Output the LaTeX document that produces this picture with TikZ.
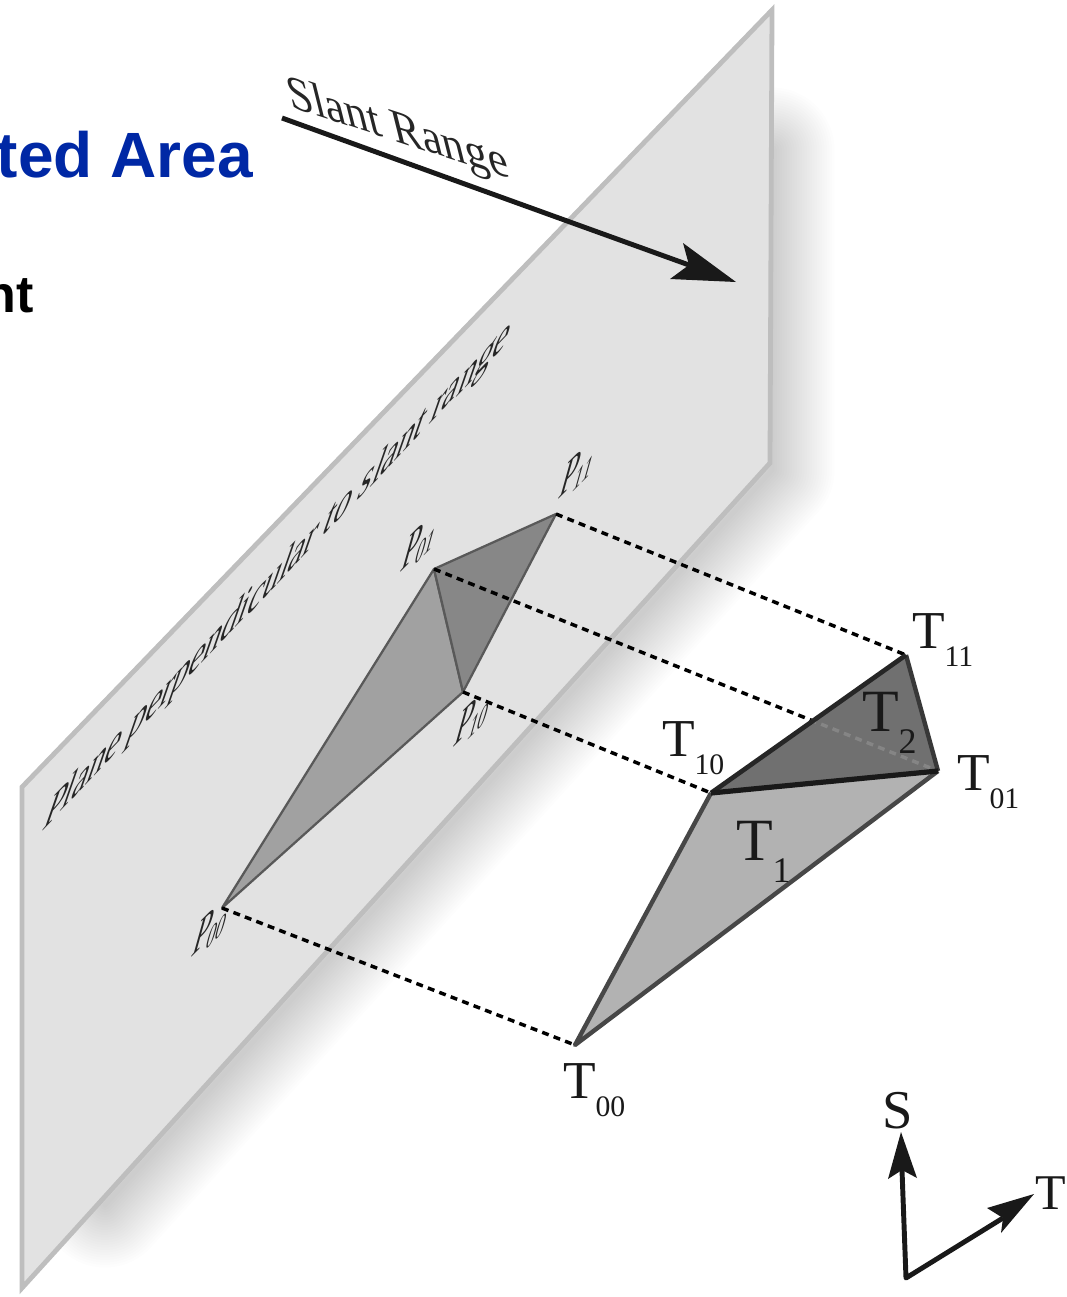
\documentclass[tikz,border=0pt]{standalone}
\usepackage{fontspec}
\setmainfont{Liberation Serif}
\newfontfamily\headfont{Liberation Sans}
\definecolor{planefill}{HTML}{E2E2E2}
\definecolor{planeedge}{HTML}{BEBEBE}
\definecolor{headblue}{HTML}{0028A5}
\newcommand{\fs}[1]{\fontsize{#1}{#1}\selectfont}
\tikzset{
  planebox/.style={fill=planefill,draw=planeedge,line width=3.6pt,line join=miter},
  dashlink/.style={line width=2.6pt,dash pattern=on 5.2pt off 4pt,draw=black},
  ptext/.style={inner sep=0pt,outer sep=0pt,anchor=base west,transform shape,text=black!85},
  ttext/.style={inner sep=0pt,outer sep=0pt,anchor=base west,text=black!90},
  headtext/.style={inner sep=0pt,outer sep=0pt,anchor=base east,font=\headfont\bfseries},
  arrowline/.style={line width=3.7pt,draw=black!90},
  arrowhead/.style={fill=black!90,draw=none}
}
\newcommand{\plab}[4]{% name, x, y, subscript
  \begin{scope}[cm={.62,.62,.33,1.18,(#2,#3)}]
    \node[ptext] (#1) at (0,0) {\fs{36}P\kern1.5pt\raisebox{-7pt}{\fs{22}#4}};
  \end{scope}}
\newcommand{\tlab}[4]{% name, x, y, subscript
  \node[ttext] (#1) at (#2,#3) {\fs{40}T\raisebox{-13.5pt}{\fs{22.3}#4}};}
\begin{document}
\begin{tikzpicture}[x=.75pt,y=-.75pt]
\useasboundingbox (0,0) rectangle (1067,1297);
% soft shadow
\foreach \w in {5,10,...,125}{
  \draw[black,opacity=.0085,line width=\w*.75pt,line join=round,line cap=round]
    (772,150) -- (772,470) -- (105,1205);
}
% plane
\coordinate (A) at (772,10);
\coordinate (B) at (770,463);
\coordinate (C) at (22,1288);
\coordinate (D) at (22,787);
\draw[planebox] (A) -- (B) -- (C) -- (D) -- cycle;
% headings
\node[headtext,text=headblue] (h1) at (253,177) {\fs{48}ted Area};
\node[headtext,text=black] (h2) at (34,312) {\fs{39}nt};
% slant range
\begin{scope}[cm={.95,-.31,-.26,1.04,(291,107)}]
  \node[ptext] (sr) at (0,0) {\fs{35.8}Slant Range};
\end{scope}
\coordinate (s0) at (282,118);
\coordinate (s1) at (689,265);
\coordinate (stip) at (736,282);
\draw[arrowline] (s0) -- (s1);
\fill[arrowhead] (stip) -- (683,243) -- (689,265) -- (670,279) -- cycle;
% plane label
\begin{scope}[cm={.69,.723,.39,1.12,(41,832)}]
  \node[ptext] (pl) at (0,0) {\fs{37}Plane perpendicular to slant range};
\end{scope}
% projected points
\coordinate (P00) at (222,908);
\coordinate (P01) at (434,569);
\coordinate (P10) at (463,692);
\coordinate (P11) at (556,514);
\coordinate (T00) at (575,1045);
\coordinate (T10) at (711,793);
\coordinate (T01) at (938,771);
\coordinate (T11) at (906,655);
% projected triangles
\filldraw[fill=black!37,draw=black!65,line width=1.7pt,line join=round] (P00) -- (P01) -- (P10) -- cycle;
\filldraw[fill=black!47,draw=black!65,line width=1.7pt,line join=round] (P01) -- (P11) -- (P10) -- cycle;
% links
\draw[dashlink] (P00) -- (T00);
\draw[dashlink] (P10) -- (T10);
\draw[dashlink] (P11) -- (T11);
\draw[dashlink] (P01) -- (T01);
% terrain triangles
\fill[black!30] (T00) -- (T10) -- (T01) -- cycle;
\fill[black!56] (T10) -- (T11) -- (T01) -- cycle;
\begin{scope}
  \clip (T10) -- (T11) -- (T01) -- cycle;
  \draw[dashlink,draw=black!48] (P01) -- (T01);
\end{scope}
\draw[draw=black!72,line width=3.3pt,line join=round] (T10) -- (T00) -- (T01);
\draw[draw=black!78,line width=3.3pt,line join=round] (T11) -- (T01);
\draw[draw=black!85,line width=3.5pt] (T10) -- (T11);
\draw[draw=black!90,line width=3.9pt] (T10) -- (T01);
% labels
\plab{lp00}{190}{958}{00}
\plab{lp01}{399}{573}{01}
\plab{lp10}{452}{748}{10}
\plab{lp11}{557}{500}{11}
\tlab{lt00}{563}{1098}{00}
\tlab{lt10}{662}{756}{10}
\tlab{lt01}{957}{790}{01}
\tlab{lt11}{912}{648}{11}
\node[ttext] (t1) at (736,860) {\fs{45}T\raisebox{-17pt}{\fs{27}1}};
\node[ttext] (t2) at (862,731) {\fs{45}T\raisebox{-16.5pt}{\fs{27}2}};
% axes
\coordinate (O) at (906,1278);
\coordinate (Sn) at (902,1170);
\coordinate (Tn) at (1003,1218);
\draw[arrowline,line join=round] (Sn) -- (O) -- (Tn);
\fill[arrowhead] (901,1132) -- (888,1179) -- (Sn) -- (917,1178) -- cycle;
\fill[arrowhead] (1034,1194) -- (987,1208) -- (Tn) -- (1001,1233) -- cycle;
\node[ttext] (ls) at (882,1128) {\fs{41}S};
\node[ttext] (lt) at (1035,1209) {\fs{37.5}T};
\end{tikzpicture}
\end{document}
